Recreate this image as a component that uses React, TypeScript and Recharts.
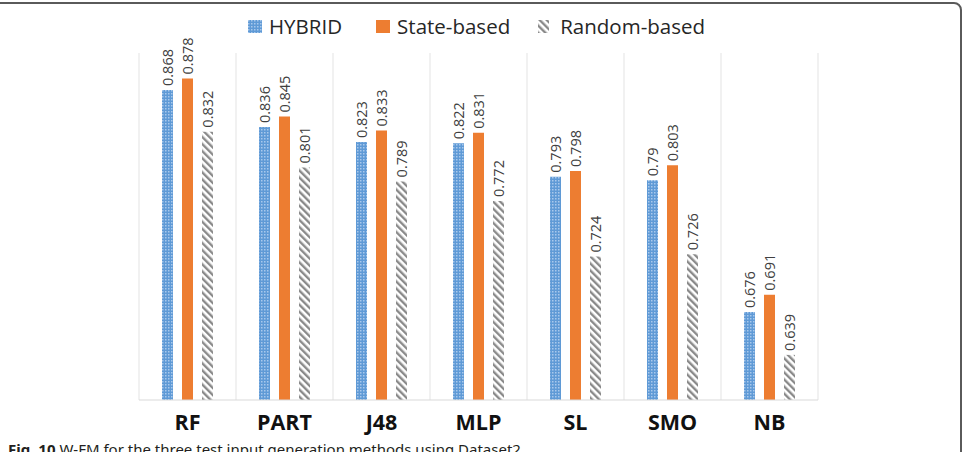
import React from 'react';
import { BarChart, Bar, XAxis, YAxis, CartesianGrid, LabelList } from 'recharts';

// W-FM scores per classifier for each test input generation method
const categories = ['RF', 'PART', 'J48', 'MLP', 'SL', 'SMO', 'NB'];
const hybrid = [0.868, 0.836, 0.823, 0.822, 0.793, 0.79, 0.676];
const stateBased = [0.878, 0.845, 0.833, 0.831, 0.798, 0.803, 0.691];
const randomBased = [0.832, 0.801, 0.789, 0.772, 0.724, 0.726, 0.639];

const seriesNames = ['HYBRID', 'State-based', 'Random-based'];
const seriesKeys = ['hybrid', 'stateBased', 'randomBased'];
const seriesFills = ['url(#hybridPat)', '#ED7D31', 'url(#randomPat)'];

const data = categories.map((name, i) => ({
  name,
  hybrid: hybrid[i],
  stateBased: stateBased[i],
  randomBased: randomBased[i],
}));

const FONT = '"Open Sans", "Noto Sans", sans-serif';

const Patterns = () => (
  <svg width={0} height={0} style={{ position: 'absolute' }}>
    <defs>
      <pattern id="hybridPat" width={3} height={3} patternUnits="userSpaceOnUse">
        <rect width={3} height={3} fill="#5F9AD6" />
        <rect width={1.5} height={1.5} fill="#A9C9EC" />
      </pattern>
      <pattern
        id="randomPat"
        width={5}
        height={5}
        patternUnits="userSpaceOnUse"
        patternTransform="rotate(-45)"
      >
        <rect width={5} height={5} fill="#ffffff" />
        <rect width={2.4} height={5} fill="#8A8A8A" />
      </pattern>
    </defs>
  </svg>
);

const ValueLabel = (props: any) => {
  const { x, y, width, value } = props;
  const cx = Number(x) + Number(width) / 2;
  const ty = Number(y) - 4;
  return (
    <text
      x={cx}
      y={ty}
      transform={`rotate(-90, ${cx}, ${ty})`}
      textAnchor="start"
      dominantBaseline="central"
      fontFamily={FONT}
      fontSize={14.5}
      fill="#404040"
    >
      {String(value)}
    </text>
  );
};

const SeriesLegend = () => (
  <div
    style={{
      position: 'absolute',
      left: 248,
      top: 12,
      display: 'flex',
      alignItems: 'center',
      fontFamily: FONT,
      fontSize: 20.5,
      color: '#262626',
      whiteSpace: 'nowrap',
    }}
  >
    {seriesNames.map((name, i) => (
      <div
        key={name}
        style={{ display: 'flex', alignItems: 'center', marginRight: i === 0 ? 34 : 28 }}
      >
        <svg width={i === 2 ? 11 : 14} height={13} style={{ marginRight: i === 2 ? 11 : 7 }}>
          <rect width={14} height={13} fill={seriesFills[i]} />
        </svg>
        <span>{name}</span>
      </div>
    ))}
  </div>
);

export default function App() {
  return (
    <div
      style={{
        position: 'absolute',
        left: 0,
        top: 0,
        width: 976,
        height: 452,
        background: '#ffffff',
        overflow: 'hidden',
      }}
    >
      <Patterns />
      <div
        style={{
          position: 'absolute',
          left: -20,
          top: 2,
          width: 982,
          height: 520,
          boxSizing: 'border-box',
          border: '2px solid #5a5a5a',
          borderRadius: 8,
        }}
      />
      <div style={{ position: 'absolute', left: 0, top: 0 }}>
        <BarChart
          width={976}
          height={452}
          data={data}
          margin={{ top: 53, right: 158, left: 139, bottom: 22 }}
          barSize={11}
          barGap={9}
        >
          <CartesianGrid
            horizontal={false}
            stroke="#E3E3E3"
            verticalCoordinatesGenerator={({ offset }: any) =>
              categories
                .map((_, i) => offset.left + (i * offset.width) / categories.length)
                .concat([offset.left + offset.width])
            }
          />
          <XAxis
            dataKey="name"
            height={30}
            axisLine={{ stroke: '#D9D9D9' }}
            tickLine={false}
            tickSize={0}
            tickMargin={15}
            tick={{ fontFamily: FONT, fontSize: 21.5, fontWeight: 700, fill: '#111111' }}
            interval={0}
          />
          <YAxis hide domain={[0.6, 0.9]} />
          {seriesKeys.map((key, i) => (
            <Bar
              key={key}
              dataKey={key}
              name={seriesNames[i]}
              fill={seriesFills[i]}
              isAnimationActive={false}
            >
              <LabelList dataKey={key} content={<ValueLabel />} />
            </Bar>
          ))}
        </BarChart>
      </div>
      <SeriesLegend />
      <div
        style={{
          position: 'absolute',
          left: 8,
          top: 439,
          fontFamily: '"Noto Sans", sans-serif',
          fontSize: 15,
          color: '#231f20',
          whiteSpace: 'nowrap',
        }}
      >
        <b>Fig. 10</b> W-FM for the three test input generation methods using Dataset2
      </div>
    </div>
  );
}
